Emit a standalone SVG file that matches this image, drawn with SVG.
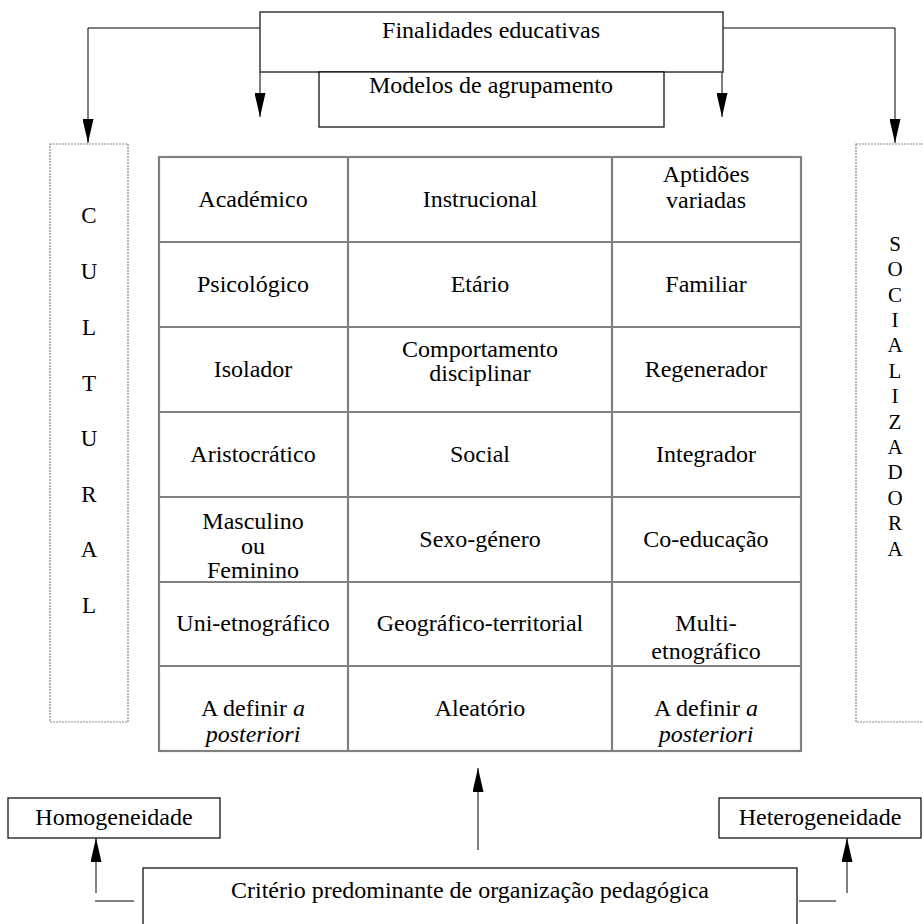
<svg xmlns="http://www.w3.org/2000/svg" width="923" height="924" viewBox="0 0 923 924">
<style>
text{font-family:"Liberation Serif","Times New Roman",serif;font-size:24px;fill:#000;text-anchor:middle}
.box{fill:#fff;stroke:#000;stroke-width:1.2}
.dash{fill:none;stroke:#888;stroke-width:1.2;stroke-dasharray:2 1}
.grid{fill:none;stroke:#808080;stroke-width:2.2}
.con{fill:none;stroke:#000;stroke-width:1}
.vc{font-size:23px}
.vs{font-size:21px}
</style>
<defs>
<marker id="arr" viewBox="0 0 24 11" refX="24" refY="5.5" markerWidth="24" markerHeight="11" markerUnits="userSpaceOnUse" orient="auto">
<path d="M0,0 L24,5.5 L0,11 z" fill="#000"/>
</marker>
</defs>

<g id="connectors">
<polyline class="con" points="260,28 88,28 88,143" marker-end="url(#arr)"/>
<polyline class="con" points="723,28 895,28 895,143" marker-end="url(#arr)"/>
<line class="con" x1="260" y1="72" x2="260" y2="117" marker-end="url(#arr)"/>
<line class="con" x1="722" y1="72" x2="722" y2="117" marker-end="url(#arr)"/>
<line class="con" x1="478" y1="850" x2="478" y2="768" marker-end="url(#arr)"/>
<line class="con" x1="96" y1="893" x2="96" y2="838" marker-end="url(#arr)"/>
<line class="con" x1="847" y1="893" x2="847" y2="838" marker-end="url(#arr)"/>
<line class="con" x1="95" y1="901" x2="134" y2="901"/>
<line class="con" x1="799" y1="901" x2="836" y2="901"/>
</g>

<g id="finalidades">
<rect class="box" x="260" y="12" width="463" height="60" style="stroke:#444;stroke-width:1.6"/>
<text x="491" y="38">Finalidades educativas</text>
</g>
<g id="modelos">
<rect class="box" x="319" y="72" width="345" height="55"/>
<text x="491" y="93">Modelos de agrupamento</text>
</g>

<g id="cultural">
<rect class="dash" x="50" y="144" width="78" height="578"/>
<text class="vc" x="89" y="223">C</text>
<text class="vc" x="89" y="279">U</text>
<text class="vc" x="89" y="335">L</text>
<text class="vc" x="89" y="391">T</text>
<text class="vc" x="89" y="446">U</text>
<text class="vc" x="89" y="502">R</text>
<text class="vc" x="89" y="557">A</text>
<text class="vc" x="89" y="613">L</text>
</g>

<g id="socializadora">
<rect class="dash" x="856" y="144" width="80" height="578"/>
<text class="vs" x="895" y="251">S</text>
<text class="vs" x="895" y="276">O</text>
<text class="vs" x="895" y="302">C</text>
<text class="vs" x="895" y="327">I</text>
<text class="vs" x="895" y="352">A</text>
<text class="vs" x="895" y="378">L</text>
<text class="vs" x="895" y="403">I</text>
<text class="vs" x="895" y="429">Z</text>
<text class="vs" x="895" y="454">A</text>
<text class="vs" x="895" y="479">D</text>
<text class="vs" x="895" y="505">O</text>
<text class="vs" x="895" y="530">R</text>
<text class="vs" x="895" y="556">A</text>
</g>

<g id="tabela">
<rect class="grid" x="159" y="157" width="642" height="594"/>
<path class="grid" d="M348,157V751M612,157V751M159,242H801M159,327H801M159,412H801M159,497H801M159,582H801M159,666H801"/>
<text x="253" y="207">Académico</text>
<text x="480" y="207">Instrucional</text>
<text x="706" y="182">Aptidões</text>
<text x="706" y="208">variadas</text>

<text x="253" y="292">Psicológico</text>
<text x="480" y="292">Etário</text>
<text x="706" y="292">Familiar</text>

<text x="253" y="377">Isolador</text>
<text x="480" y="357">Comportamento</text>
<text x="480" y="381">disciplinar</text>
<text x="706" y="377">Regenerador</text>

<text x="253" y="462">Aristocrático</text>
<text x="480" y="462">Social</text>
<text x="706" y="462">Integrador</text>

<text x="253" y="529">Masculino</text>
<text x="253" y="554">ou</text>
<text x="253" y="578">Feminino</text>
<text x="480" y="547">Sexo-género</text>
<text x="706" y="547">Co-educação</text>

<text x="253" y="631">Uni-etnográfico</text>
<text x="480" y="631">Geográfico-territorial</text>
<text x="706" y="631">Multi-</text>
<text x="706" y="659">etnográfico</text>

<text x="253" y="716">A definir <tspan font-style="italic">a</tspan></text>
<text x="253" y="742" font-style="italic">posteriori</text>
<text x="480" y="716">Aleatório</text>
<text x="706" y="716">A definir <tspan font-style="italic">a</tspan></text>
<text x="706" y="742" font-style="italic">posteriori</text>
</g>

<g id="homogeneidade">
<rect class="box" x="8" y="798" width="212" height="40"/>
<text x="114" y="825">Homogeneidade</text>
</g>
<g id="heterogeneidade">
<rect class="box" x="719" y="798" width="202" height="40"/>
<text x="820" y="825">Heterogeneidade</text>
</g>
<g id="criterio">
<rect class="box" x="143" y="868" width="654" height="70"/>
<text x="470" y="898">Critério predominante de organização pedagógica</text>
</g>
</svg>
